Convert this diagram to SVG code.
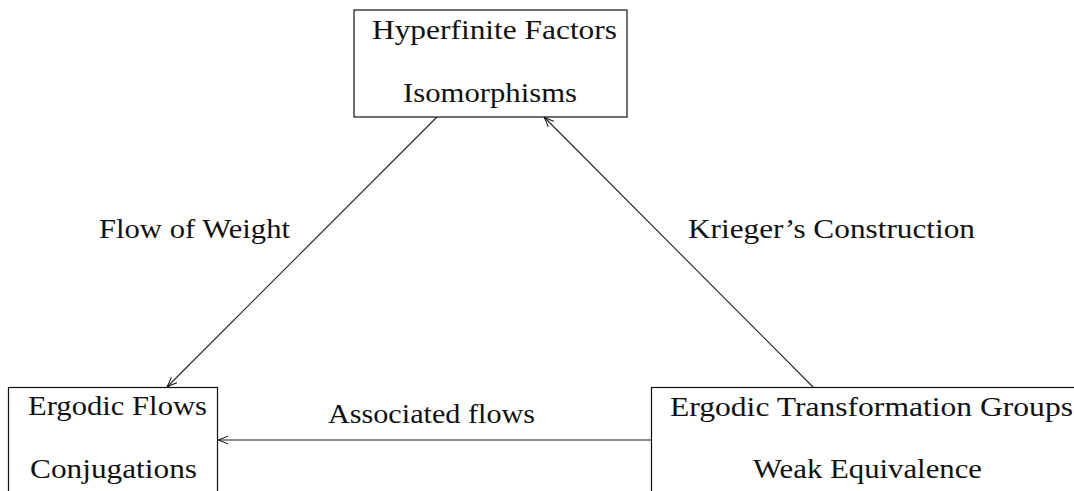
<svg xmlns="http://www.w3.org/2000/svg" width="1074" height="491" viewBox="0 0 1074 491">
<defs>
<marker id="arr" viewBox="0 0 12 10" refX="11" refY="5" markerWidth="12" markerHeight="10" markerUnits="userSpaceOnUse" orient="auto">
<path d="M1,1 Q6,3.5 11,5 Q6,6.5 1,9" fill="none" stroke="#111" stroke-width="1"/>
</marker>
</defs>
<style>
.box{fill:#fff;stroke:#111;stroke-width:1.2}
.t{font-family:"Liberation Serif","Times New Roman",serif;font-size:28px;fill:#111}
.c{fill:none;stroke:#222;stroke-width:1.1;marker-end:url(#arr)}
</style>
<rect width="1074" height="491" fill="#fff"/>
<g id="connectors">
<line class="c" x1="437" y1="117" x2="167" y2="387"/>
<line class="c" x1="813" y1="387" x2="544" y2="117"/>
<line class="c" x1="651" y1="440" x2="218" y2="440"/>
<text class="t" x="99" y="238" textLength="191" lengthAdjust="spacingAndGlyphs">Flow of Weight</text>
<text class="t" x="688" y="238" textLength="287" lengthAdjust="spacingAndGlyphs">Krieger’s Construction</text>
<text class="t" x="328" y="423" textLength="207" lengthAdjust="spacingAndGlyphs">Associated flows</text>
</g>
<g id="hyperfinite">
<rect class="box" x="354" y="10" width="273" height="107"/>
<text class="t" x="372" y="39" textLength="245" lengthAdjust="spacingAndGlyphs">Hyperfinite Factors</text>
<text class="t" x="403" y="102" textLength="174" lengthAdjust="spacingAndGlyphs">Isomorphisms</text>
</g>
<g id="ergodic-flows">
<rect class="box" x="8.5" y="387.5" width="209" height="120"/>
<text class="t" x="28" y="415" textLength="179" lengthAdjust="spacingAndGlyphs">Ergodic Flows</text>
<text class="t" x="30" y="478" textLength="167" lengthAdjust="spacingAndGlyphs">Conjugations</text>
</g>
<g id="ergodic-groups">
<rect class="box" x="651.5" y="387.5" width="440" height="120"/>
<text class="t" x="670" y="416" textLength="403" lengthAdjust="spacingAndGlyphs">Ergodic Transformation Groups</text>
<text class="t" x="753" y="478" textLength="229" lengthAdjust="spacingAndGlyphs">Weak Equivalence</text>
</g>
</svg>
